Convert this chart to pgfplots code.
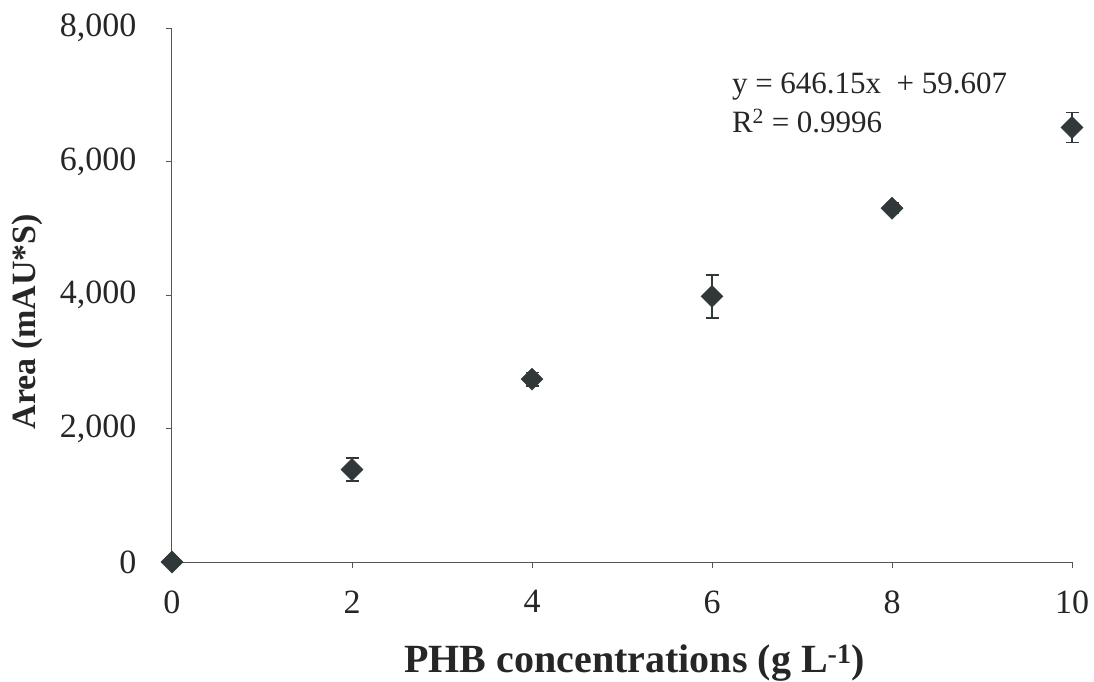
\documentclass[border=0pt]{standalone}
\usepackage{fontspec}
\setmainfont{Liberation Serif}
\usepackage{pgfplots}
\pgfplotsset{compat=1.18}
\definecolor{mk}{HTML}{30383A}
\definecolor{ax}{HTML}{555555}
\definecolor{tx}{HTML}{262626}
\begin{document}
\begin{tikzpicture}[x=1pt,y=1pt]
\path[use as bounding box] (-172,-120) rectangle (922,562);
\begin{axis}[
  at={(0,0)}, anchor=south west,
  scale only axis, width=900pt, height=534pt,
  xmin=0, xmax=10, ymin=0, ymax=8000,
  xtick={0,2,...,10}, ytick={0,2000,...,8000},
  axis x line*=bottom, axis y line*=left,
  axis line style={ax, line width=1pt, -},
  tick style={ax, line width=0.8pt},
  tick align=outside, major tick length=6pt,
  scaled y ticks=false,
  /pgf/number format/assume math mode=true,
  /pgf/number format/1000 sep={,},
  tick label style={font=\fontsize{34}{40}\selectfont, text=tx},
  xticklabel style={yshift=-19pt},
  yticklabel style={xshift=-26pt},
  xlabel={PHB concentrations (g L\textsuperscript{-1})},
  ylabel={Area (mAU*S)},
  xlabel style={font=\fontsize{40}{46}\selectfont\bfseries, text=tx, at={(axis description cs:0.514,-0.19)}, anchor=center},
  ylabel style={font=\fontsize{34}{40}\selectfont\bfseries, text=tx, at={(axis description cs:-0.161,0.45)}, anchor=center},
  clip=false,
]
\addplot[only marks, mark=square*, mark size=7.8pt,
  mark options={rotate=45, fill=mk, draw=mk},
  error bars/.cd, y dir=both, y explicit,
  error bar style={mk, line width=1.8pt},
  error mark options={rotate=90, mark size=6.5pt, line width=1.8pt, mk}]
  table[x=x, y=y, y error=e] {
x y e
0 0 0
2 1385 170
4 2740 100
6 3980 320
8 5300 80
10 6510 225
};
\node[anchor=base west, font=\fontsize{31}{36}\selectfont, text=tx, inner sep=0pt] at (axis cs:6.22,7020) {y = 646.15x \ + 59.607};
\node[anchor=base west, font=\fontsize{31}{36}\selectfont, text=tx, inner sep=0pt] at (axis cs:6.22,6440) {R\textsuperscript{2} = 0.9996};
\end{axis}
\end{tikzpicture}
\end{document}
